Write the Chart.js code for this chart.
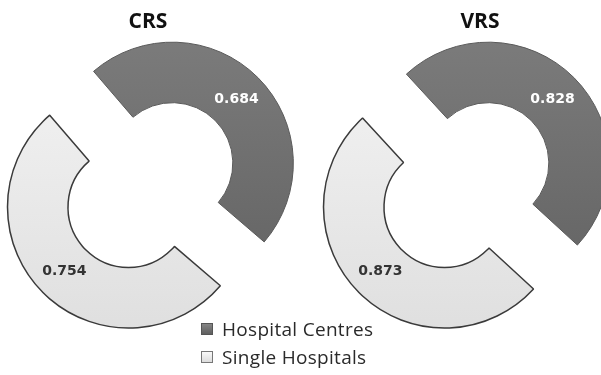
<!DOCTYPE html>
<html>
<head>
<meta charset="utf-8">
<script src="https://cdn.jsdelivr.net/npm/chart.js@4/dist/chart.umd.min.js"></script>
<style>
  html, body { margin: 0; padding: 0; background: #ffffff; }
  #wrap { position: relative; width: 601px; height: 375px; overflow: hidden; }
  #wrap canvas { position: absolute; left: 0; top: 0; }
  .title { position: absolute; top: 6px; transform: translateX(-50%);
           font: bold 21px "Open Sans", sans-serif; color: #111; white-space: nowrap; }
  #legend { position: absolute; left: 201px; top: 315px;
            font: 19px "Open Sans", sans-serif; letter-spacing: 0.3px; color: #2a2a2a; }
  #legend .row { display: flex; align-items: center; height: 28px; }
  #legend .box { width: 12px; height: 12px; margin-right: 9px; box-sizing: border-box; }
</style>
</head>
<body>
<div id="wrap">
  <canvas id="crs" width="601" height="375"></canvas>
  <canvas id="vrs" width="601" height="375"></canvas>
  <div class="title" id="t0" style="left:148px"></div>
  <div class="title" id="t1" style="left:480px"></div>
  <div id="legend"></div>
</div>
<script>
// Series and values
const seriesNames = ['Hospital Centres', 'Single Hospitals'];
const panelTitles = ['CRS', 'VRS'];
const crsValues = [0.684, 0.754];
const vrsValues = [0.828, 0.873];

// Styling
const fillTop = ['#858585', '#f9f9f9'];
const fillBottom = ['#5f5f5f', '#dcdcdc'];
const borderColors = ['#5a5a5a', '#3a3a3a'];
const borderWidths = [1, 1.5];
const labelColors = ['#ffffff', '#333333'];
const explodeDistance = [62, 0];

// vertical shading per slice
function sliceFill(c) {
  const i = c.dataIndex || 0;
  const chart = c.chart;
  const area = chart.chartArea;
  if (!area) return fillTop[i];
  const g = chart.ctx.createLinearGradient(0, area.top - 60, 0, area.bottom);
  g.addColorStop(0, fillTop[i]);
  g.addColorStop(1, fillBottom[i]);
  return g;
}

// Draws each arc pushed out along its bisector by a fixed distance
const explodePlugin = {
  id: 'explode',
  beforeDatasetDraw(chart, args) {
    const ctx = chart.ctx;
    args.meta.data.forEach((arc, i) => {
      const d = explodeDistance[i] || 0;
      const mid = (arc.startAngle + arc.endAngle) / 2;
      ctx.save();
      ctx.translate(Math.cos(mid) * d, Math.sin(mid) * d);
      arc.draw(ctx);
      ctx.restore();
    });
    return false;
  },
  afterDatasetsDraw(chart) {
    const ctx = chart.ctx;
    const meta = chart.getDatasetMeta(0);
    const values = chart.data.datasets[0].data;
    ctx.save();
    ctx.font = 'bold 14px "DejaVu Sans", sans-serif';
    ctx.textAlign = 'center';
    ctx.textBaseline = 'middle';
    meta.data.forEach((arc, i) => {
      const d = explodeDistance[i] || 0;
      const mid = (arc.startAngle + arc.endAngle) / 2;
      const p = arc.tooltipPosition();
      ctx.fillStyle = labelColors[i];
      ctx.fillText(values[i].toFixed(3), p.x + Math.cos(mid) * d, p.y + Math.sin(mid) * d);
    });
    ctx.restore();
  }
};

function makeDoughnut(id, values, padding) {
  const total = values[0] + values[1];
  // keep the first slice centred on the upper-right diagonal
  const rotation = 45 - (values[0] / total) * 180;
  return new Chart(document.getElementById(id), {
    type: 'doughnut',
    data: {
      labels: seriesNames,
      datasets: [{
        data: values,
        backgroundColor: sliceFill,
        borderColor: borderColors,
        borderWidth: borderWidths,
        borderAlign: 'center',
        hoverOffset: 0
      }]
    },
    options: {
      responsive: false,
      animation: false,
      radius: 121,
      cutout: '50%',
      rotation: rotation,
      layout: { padding: padding },
      plugins: {
        legend: { display: false },
        tooltip: { enabled: false },
        title: { display: false }
      },
      events: []
    },
    plugins: [explodePlugin]
  });
}

makeDoughnut('crs', crsValues, { left: 0, right: 344, top: 39, bottom: 0 });
makeDoughnut('vrs', vrsValues, { left: 288, right: 0, top: 39, bottom: 0 });

document.getElementById('t0').textContent = panelTitles[0];
document.getElementById('t1').textContent = panelTitles[1];

// Legend
const legend = document.getElementById('legend');
seriesNames.forEach((name, i) => {
  const row = document.createElement('div');
  row.className = 'row';
  const box = document.createElement('span');
  box.className = 'box';
  box.style.background = 'linear-gradient(' + fillTop[i] + ',' + fillBottom[i] + ')';
  box.style.border = '1px solid ' + (i === 0 ? '#555' : '#777');
  const txt = document.createElement('span');
  txt.textContent = name;
  row.appendChild(box);
  row.appendChild(txt);
  legend.appendChild(row);
});
</script>
</body>
</html>
